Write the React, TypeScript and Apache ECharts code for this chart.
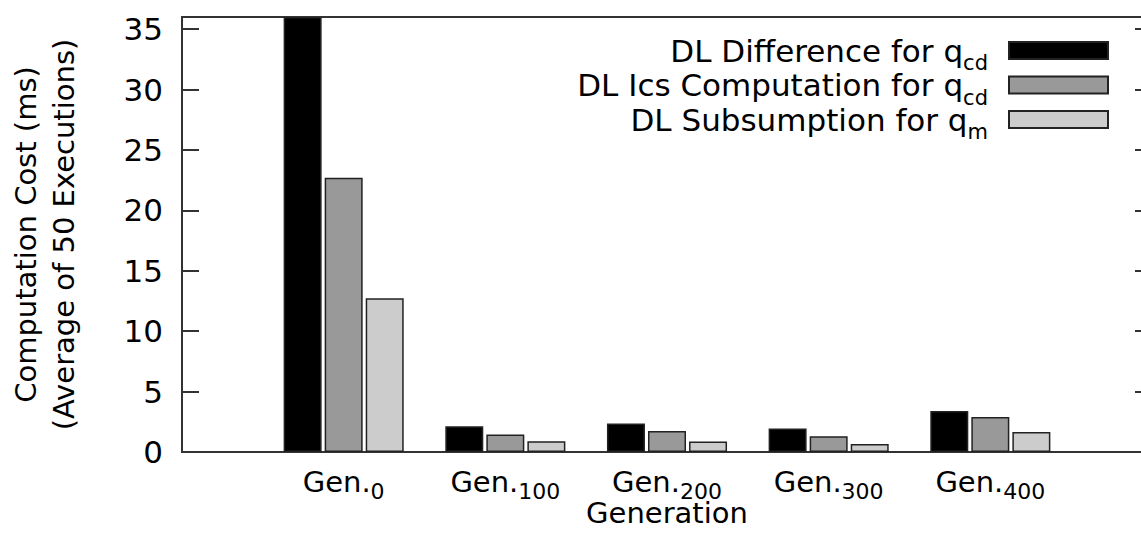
import React, { useEffect, useRef } from "react";
import * as echarts from "echarts";

// ---- data ----
const generations = ["0", "100", "200", "300", "400"];
const seriesNames = [
  "DL Difference for q",
  "DL Ics Computation for q",
  "DL Subsumption for q",
];
const seriesSubs = ["cd", "cd", "m"];
const dlDifference = [36, 2.13, 2.36, 1.94, 3.4];
const dlIcsComputation = [22.7, 1.44, 1.74, 1.3, 2.9];
const dlSubsumption = [12.73, 0.89, 0.87, 0.66, 1.66];
const yMin = 0;
const yMax = 36;
const yStep = 5;
const xTitle = "Generation";
const yTitleLines = ["Computation Cost (ms)", "(Average of 50 Executions)"];

const FONT = "DejaVu Sans";
const LINE = "#333333";
const fills = ["#000000", "#999999", "#cccccc"];

export default function App() {
  const ref = useRef<HTMLDivElement>(null);
  useEffect(() => {
    const chart = echarts.init(ref.current!, null, { renderer: "svg" });
    const cats = ["", ...generations, ""];
    const pad = (a: number[]) => [null, ...a, null];
    const values = [dlDifference, dlIcsComputation, dlSubsumption];
    const axisLine = { show: true, lineStyle: { color: LINE, width: 2 } };
    chart.setOption({
      animation: false,
      grid: {
        left: 182,
        top: 17,
        right: -11,
        bottom: 97,
        show: true,
        borderColor: LINE,
        borderWidth: 2,
        containLabel: false,
        outerBoundsMode: "none",
      },
      legend: {
        orient: "vertical",
        align: "right",
        right: 32,
        top: 35,
        padding: 0,
        itemGap: -4,
        itemWidth: 99,
        itemHeight: 17,
        icon: "rect",
        data: seriesNames,
        formatter: (name: string) =>
          `{m|${name}}{s|${seriesSubs[seriesNames.indexOf(name)]}}`,
        textStyle: {
          rich: {
            m: { fontSize: 31, lineHeight: 46, fontFamily: FONT, color: "#000" },
            s: {
              fontSize: 21,
              lineHeight: 22,
              verticalAlign: "bottom",
              fontFamily: FONT,
              color: "#000",
              padding: [0, 16, 0, 0],
            },
          },
        },
      },
      xAxis: [
        {
          type: "category",
          data: cats,
          boundaryGap: false,
          axisLine,
          axisTick: { show: false },
          splitLine: { show: false },
          axisLabel: {
            interval: 0,
            margin: 10,
            formatter: (v: string) => (v ? `{m|Gen.}{s|${v}}` : ""),
            rich: {
              m: { fontSize: 29, lineHeight: 40, fontFamily: FONT, color: "#000" },
              s: {
                fontSize: 22,
                lineHeight: 22,
                verticalAlign: "bottom",
                fontFamily: FONT,
                color: "#000",
              },
            },
          },
          name: xTitle,
          nameLocation: "middle",
          nameGap: 46,
          nameMoveOverlap: false,
          nameTextStyle: { fontSize: 29, fontFamily: FONT, color: "#000" },
        },
      ],
      yAxis: [
        {
          type: "value",
          position: "left",
          min: yMin,
          max: yMax,
          interval: yStep,
          axisLine,
          axisTick: { show: true, inside: true, length: 17, lineStyle: { color: LINE, width: 2 } },
          splitLine: { show: false },
          axisLabel: {
            margin: 19,
            fontSize: 31,
            fontFamily: FONT,
            color: "#000",
            formatter: (v: number) => (v % yStep === 0 ? String(v) : ""),
          },
          name: yTitleLines.join("\n"),
          nameLocation: "middle",
          nameRotate: 90,
          nameGap: 99,
          nameMoveOverlap: false,
          nameTextStyle: { fontSize: 29, lineHeight: 38, fontFamily: FONT, color: "#000" },
        },
        {
          type: "value",
          position: "right",
          min: yMin,
          max: yMax,
          interval: yStep,
          axisLine,
          axisTick: { show: true, inside: true, length: 17, lineStyle: { color: LINE, width: 2 } },
          splitLine: { show: false },
          axisLabel: { show: false },
        },
      ],
      series: seriesNames.map((name, i) => ({
        type: "bar",
        name,
        data: pad(values[i]),
        xAxisIndex: 0,
        yAxisIndex: 0,
        barWidth: 38,
        barGap: "8%",
        clip: true,
        itemStyle: { color: fills[i], borderColor: "#222222", borderWidth: 1.5 },
      })),
    });
    return () => chart.dispose();
  }, []);
  return (
    <div
      ref={ref}
      style={{ position: "absolute", left: 0, top: 0, width: 1141, height: 549, background: "#fff" }}
    />
  );
}
